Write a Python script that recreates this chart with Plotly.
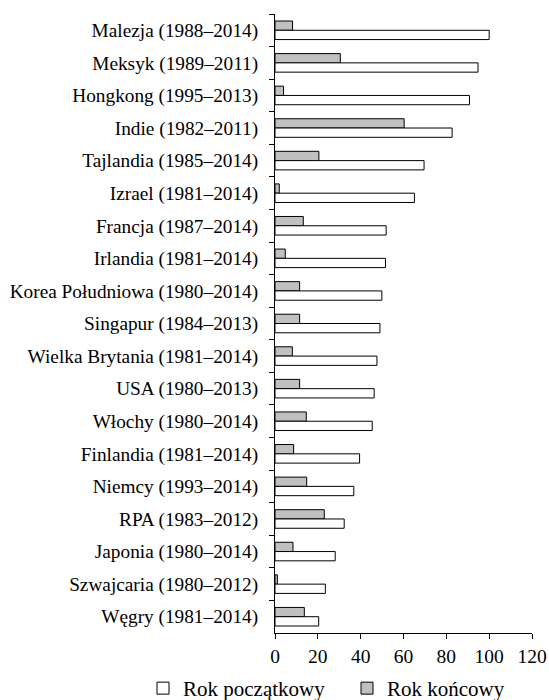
import plotly.graph_objects as go

countries = [
    "Malezja (1988–2014)",
    "Meksyk (1989–2011)",
    "Hongkong (1995–2013)",
    "Indie (1982–2011)",
    "Tajlandia (1985–2014)",
    "Izrael (1981–2014)",
    "Francja (1987–2014)",
    "Irlandia (1981–2014)",
    "Korea Południowa (1980–2014)",
    "Singapur (1984–2013)",
    "Wielka Brytania (1981–2014)",
    "USA (1980–2013)",
    "Włochy (1980–2014)",
    "Finlandia (1981–2014)",
    "Niemcy (1993–2014)",
    "RPA (1983–2012)",
    "Japonia (1980–2014)",
    "Szwajcaria (1980–2012)",
    "Węgry (1981–2014)",
]
start_year = [100.0, 94.8, 90.8, 82.7, 69.6, 65.1, 51.9, 51.6, 49.9, 49.0,
              47.6, 46.3, 45.4, 39.5, 36.8, 32.3, 28.1, 23.5, 20.4]
end_year = [8.2, 30.5, 4.0, 60.3, 20.5, 2.0, 13.2, 4.8, 11.5, 11.5,
            8.1, 11.5, 14.6, 8.7, 14.8, 23.0, 8.4, 1.1, 13.7]
x_ticks = [0, 20, 40, 60, 80, 100, 120]

FONT = "Liberation Serif"
W, H = 549, 700

fig = go.Figure()
fig.add_trace(go.Bar(
    y=countries, x=end_year, orientation="h", name="Rok końcowy",
    marker=dict(color="#c0c0c0", line=dict(color="black", width=1)),
    legend="legend2",
))
fig.add_trace(go.Bar(
    y=countries, x=start_year, orientation="h", name="Rok początkowy",
    marker=dict(color="white", line=dict(color="black", width=1)),
    legend="legend",
))

leg_common = dict(
    orientation="h", xref="container", yref="container",
    yanchor="middle", xanchor="left", y=1 - 688.5 / H,
    font=dict(family=FONT, size=21, color="black"),
    bgcolor="rgba(0,0,0,0)",
)

fig.update_layout(
    width=W, height=H,
    margin=dict(l=275, r=17, t=14, b=67),
    paper_bgcolor="white", plot_bgcolor="white",
    font=dict(family=FONT, size=19.3, color="black"),
    barmode="group", bargap=0.43, bargroupgap=0,
    showlegend=True,
    legend=dict(x=143 / W, **leg_common),
    legend2=dict(x=347 / W, **leg_common),
    xaxis=dict(
        range=[0, 120], tickvals=x_ticks, ticktext=[str(v) for v in x_ticks],
        showgrid=False, zeroline=False, automargin=False,
        showline=True, linecolor="black", linewidth=1,
        ticks="outside", ticklen=5, tickcolor="black", tickwidth=1,
        ticklabelstandoff=1, tickfont=dict(size=19.5),
    ),
    yaxis=dict(
        autorange="reversed", type="category", automargin=False,
        showgrid=False, zeroline=False,
        showline=True, linecolor="black", linewidth=1,
        ticks="outside", ticklen=5, tickcolor="black", tickwidth=1,
        tickson="boundaries", ticklabelstandoff=12,
    ),
)

fig.write_html(
    "out.html",
    config={"displayModeBar": False},
    post_script="document.body.style.margin='0px';document.body.style.overflow='hidden';",
)
